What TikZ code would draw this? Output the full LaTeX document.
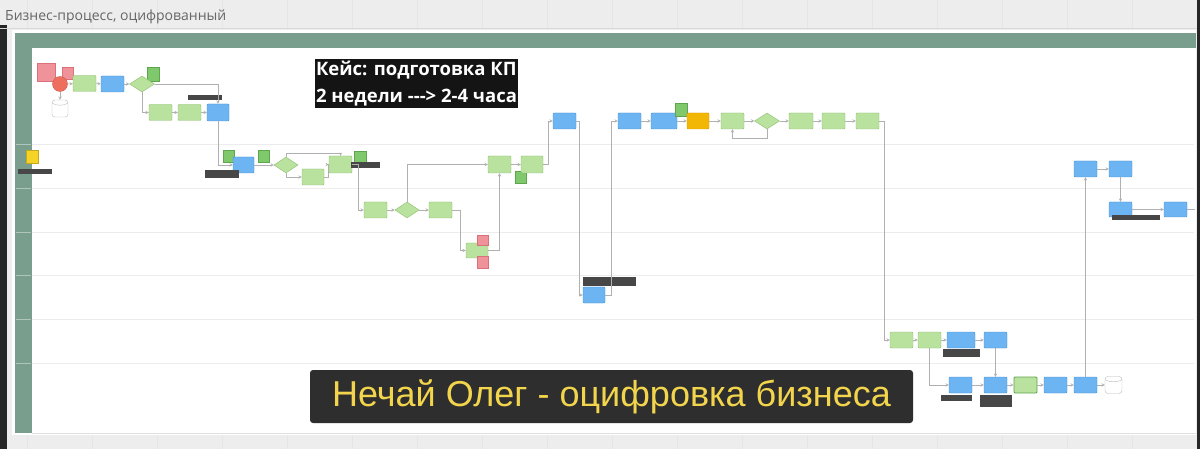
\documentclass[tikz,border=0pt]{standalone}
\usepackage{fontspec}
\newfontfamily\osans{Open Sans}
\newfontfamily\lsans{Liberation Sans}
\usetikzlibrary{shapes.geometric}
\definecolor{bgray}{HTML}{EDEDED}
\definecolor{lanec}{HTML}{7A9E8E}
\definecolor{gboxf}{HTML}{B9E29F}
\definecolor{gboxd}{HTML}{8DBF6E}
\definecolor{bboxf}{HTML}{6DB5F2}
\definecolor{bboxd}{HTML}{4A90D2}
\definecolor{oboxf}{HTML}{F2B705}
\definecolor{oboxd}{HTML}{D49A00}
\definecolor{rnotef}{HTML}{F0929A}
\definecolor{rnoted}{HTML}{D9707A}
\definecolor{gnotef}{HTML}{7FC86C}
\definecolor{gnoted}{HTML}{5EA64C}
\definecolor{ynotef}{HTML}{F5D327}
\definecolor{startf}{HTML}{EF6F5E}
\definecolor{cgray}{HTML}{B0B0B0}
\definecolor{capbg}{HTML}{2E2E2E}
\definecolor{capfg}{HTML}{F2D54C}

\begin{document}
\begin{tikzpicture}[x=1pt,y=-1pt,
 gbox/.style={draw=gboxd,fill=gboxf,rounded corners=1pt,inner sep=0pt,minimum width=23pt,minimum height=16pt},
 bbox/.style={gbox,draw=bboxd,fill=bboxf},
 obox/.style={gbox,draw=oboxd,fill=oboxf},
 rnote/.style={draw=rnoted,fill=rnotef,inner sep=0pt},
 gnote/.style={draw=gnoted,fill=gnotef,inner sep=0pt},
 dia/.style={diamond,draw=gboxd,fill=gboxf,inner sep=0pt,minimum width=25pt,minimum height=16pt},
 dbase/.style={draw=gray!55,fill=white,rounded corners=3pt,inner sep=0pt,minimum width=16pt,minimum height=17pt,
  path picture={\draw[gray!55] ([yshift=-3pt]path picture bounding box.north west)
   .. controls ([xshift=3pt,yshift=-6pt]path picture bounding box.north west)
   and ([xshift=-3pt,yshift=-6pt]path picture bounding box.north east)
   .. ([yshift=-3pt]path picture bounding box.north east);}},
 lbl/.style={fill=black!72,inner sep=0pt},
 con/.style={->,>=stealth,draw=cgray,line width=0.5pt}]
 \useasboundingbox (0,0) rectangle (1200,449);
 \fill[bgray] (0,0) rectangle (1200,449); %背景
 \fill[black!85] (0,25) rectangle (7,449); \fill[black!85] (1197,0) rectangle (1200,449); %枠
 \foreach \i in {0,...,17} \draw[gray!20] ({27+65*\i},0) -- ++(0,28) ({27+65*\i},436) -- ++(0,13); %セル
 \draw[gray!30] (0,28.5) -- (1197,28.5);
 \node[anchor=west,text=black!60,inner sep=0pt] (title) at (5,17) {\osans\fontsize{14}{16}\selectfont Бизнес-процесс, оцифрованный};
 \fill[white] (12,30) rectangle (1196,435); %キャンバス
 \fill[lanec] (15,33) rectangle (1196,48); %プール
 \fill[lanec] (15,48) rectangle (32,433);
 \foreach \y in {144,188,232,275,319,363} {
  \draw[gray!15,line width=0.7pt] (32,\y) -- (1194,\y); %レーン
  \draw[white!40!lanec] (16,\y) -- (31,\y);
 }
 \draw[gray!25] (32,433) -- (1196,433);

 % レーン1
 \node[rnote,minimum width=18pt,minimum height=18pt] (r1) at (46,72) {};
 \node[rnote,minimum width=11pt,minimum height=12pt] (r2) at (67.5,73) {};
 \node[circle,draw=startf!85!black,fill=startf,inner sep=0pt,minimum size=15pt] (s1) at (60,84) {};
 \node[dbase] (db1) at (60,108.5) {};
 \node[gbox] (g1) at (84.5,83.5) {};
 \node[bbox] (b1) at (112.5,84) {};
 \node[gnote,minimum width=12pt,minimum height=14pt] (n1) at (153,74) {};
 \node[dia] (d1) at (142,84) {};
 \node[gbox] (g2) at (160.5,112.5) {};
 \node[gbox] (g3) at (189.5,112.5) {};
 \node[bbox,minimum width=22pt,minimum height=17pt] (b2) at (218,112.5) {};
 \node[lbl,minimum width=34pt,minimum height=5pt] (l1) at (205,97.5) {};
 \node[bbox] (b4) at (564.5,121) {};
 \node[bbox] (b6) at (629.5,121) {};
 \node[bbox,minimum width=26pt] (b7) at (664,121) {};
 \node[gnote,minimum width=12pt,minimum height=13pt] (n6) at (681,109.5) {};
 \node[obox,minimum width=22pt] (o1) at (698,121) {};
 \node[gbox] (g11) at (732.5,121) {};
 \node[dia] (d4) at (767,121) {};
 \node[gbox,minimum width=24pt] (g12) at (801,121) {};
 \node[gbox] (g13) at (833.5,121) {};
 \node[gbox] (g14) at (867.5,121) {};

 % レーン2
 \node[fill=ynotef,draw=ynotef!80!black,inner sep=0pt,minimum width=12pt,minimum height=13pt] (y1) at (32,156.5) {};
 \node[lbl,minimum width=34pt,minimum height=5pt] (l2) at (35,171.5) {};
 \node[gnote,minimum width=11pt,minimum height=12pt] (n2) at (228.5,156) {};
 \node[bbox,minimum width=21pt] (b3) at (243.5,165) {};
 \node[lbl,minimum width=34pt,minimum height=8pt] (l3) at (222,174) {};
 \node[gnote,minimum width=11pt,minimum height=12pt] (n3) at (263.5,156) {};
 \node[dia,minimum width=24pt] (d2) at (286,165) {};
 \node[gbox,minimum width=22pt] (g4) at (313,177) {};
 \node[gbox,minimum height=17pt] (g5) at (340.5,164.5) {};
 \node[gnote,minimum width=12pt,minimum height=11pt] (n4) at (360,156.5) {};
 \node[lbl,minimum width=29pt,minimum height=6pt] (l4) at (365.5,165) {};
 \node[gbox,minimum height=17pt] (g8) at (499.5,164.5) {};
 \node[gnote,minimum width=11pt,minimum height=12pt] (n5) at (520.5,177) {};
 \node[gbox,minimum width=22pt,minimum height=17pt] (g10) at (532,164.5) {};
 \node[bbox] (b14) at (1085.5,169) {};
 \node[bbox] (b15) at (1120.5,169) {};

 % レーン3
 \node[gbox] (g6) at (375.5,210) {};
 \node[dia,minimum width=24pt] (d3) at (407,210) {};
 \node[gbox] (g7) at (440.5,210) {};
 \node[bbox,minimum height=15pt] (b16) at (1120.5,209.5) {};
 \node[lbl,minimum width=48pt,minimum height=5pt] (l9) at (1136,218) {};
 \node[bbox,minimum height=15pt] (b17) at (1175.5,209.5) {};

 % レーン4
 \node[gbox,minimum width=22pt,minimum height=15pt] (g9) at (477,250.5) {};
 \node[rnote,minimum width=11pt,minimum height=10pt] (r3) at (482.5,240) {};
 \node[rnote,minimum width=11pt,minimum height=12pt] (r4) at (482.5,262) {};

 % レーン5
 \node[bbox,minimum width=22pt] (b5) at (594,295) {};
 \node[lbl,minimum width=53pt,minimum height=9pt] (l5) at (609.5,282) {};

 % レーン6
 \node[gbox] (g15) at (901.5,340) {};
 \node[gbox] (g16) at (929.5,340) {};
 \node[bbox,minimum width=28pt] (b8) at (961,340) {};
 \node[lbl,minimum width=37pt,minimum height=8pt] (l6) at (961.5,352.5) {};
 \node[bbox] (b9) at (995.5,340) {};

 % レーン7
 \node[bbox] (b10) at (960.5,385) {};
 \node[lbl,minimum width=31pt,minimum height=6pt] (l7) at (956.5,398) {};
 \node[bbox] (b11) at (995.5,385) {};
 \node[lbl,minimum width=32pt,minimum height=12pt] (l8) at (996,401) {};
 \node[gbox,draw=gnoted,line width=0.8pt] (g17) at (1025.5,385) {};
 \node[bbox] (b12) at (1055.5,385) {};
 \node[bbox] (b13) at (1085.5,385) {};
 \node[dbase,minimum width=17pt] (db2) at (1113.5,385) {};

 % 矢印
 \draw[con] (s1) -- (g1);
 \draw[con] (s1) -- (db1);
 \draw[con] (g1) -- (b1);
 \draw[con] (b1) -- (d1);
 \draw[con] (d1.east) -| (b2.north);
 \draw[con] (d1.south) |- (g2.west);
 \draw[con] (g2) -- (g3);
 \draw[con] (g3) -- (b2);
 \draw[con] (b2.south) |- (b3.west);
 \draw[con] (b3) -- (d2);
 \draw[con] (d2.north) -- ++(0,-4) -| (g5.north);
 \draw[con] (d2.south) |- (g4.west);
 \draw[con] (g4.east) -- ++(4,0) |- (g5.west);
 \draw[con] (g5.east) -- ++(6,0) |- (g6.west);
 \draw[con] (g6) -- (d3);
 \draw[con] (d3) -- (g7);
 \draw[con] (d3.north) |- (g8.west);
 \draw[con] (g7.east) -- ++(8,0) |- (g9.west);
 \draw[con] (g9.east) -| (g8.south);
 \draw[con] (g8) -- (g10);
 \draw[con] (g10.east) -- ++(5,0) |- (b4.west);
 \draw[con] (b4.east) -- ++(3,0) |- (b5.west);
 \draw[con] (b5.east) -- ++(6,0) |- (b6.west);
 \draw[con] (b6) -- (b7);
 \draw[con] (b7) -- (o1);
 \draw[con] (o1) -- (g11);
 \draw[con] (g11) -- (d4);
 \draw[con] (d4.south) -- ++(0,9) -| (g11.south);
 \draw[con] (d4) -- (g12);
 \draw[con] (g12) -- (g13);
 \draw[con] (g13) -- (g14);
 \draw[con] (g14.east) -- ++(5,0) |- (g15.west);
 \draw[con] (g15) -- (g16);
 \draw[con] (g16) -- (b8);
 \draw[con] (b8) -- (b9);
 \draw[con] (b9) -- (b11);
 \draw[con] (g16.south) |- (b10.west);
 \draw[con] (b10) -- (b11);
 \draw[con] (b11) -- (g17);
 \draw[con] (g17) -- (b12);
 \draw[con] (b12) -- (b13);
 \draw[con] (b13) -- (db2);
 \draw[con] (b13) -- (b14);
 \draw[con] (b14) -- (b15);
 \draw[con] (b15) -- (b16);
 \draw[con] (b16) -- (b17);
 \coordinate (kraj) at (1195,209.5);
 \draw[cgray,line width=0.5pt] (b17) -- (kraj);

 % 注釈
 \node[fill=black!92,text=white,align=left,inner xsep=1.5pt,inner ysep=2pt,
  font=\osans\bfseries\fontsize{18.5}{27}\selectfont] (kejs) at (416.5,83.5)
  {Кейс: подготовка КП\\2 недели {-}{-}{-}> 2-4 часа};
 \node[fill=capbg,rounded corners=3pt,minimum width=603pt,minimum height=53pt,inner sep=0pt,
  text=capfg,font=\lsans\fontsize{36}{40}\selectfont] (cap) at (611.5,396.5)
  {Нечай Олег - оцифровка бизнеса};
\end{tikzpicture}
\end{document}
